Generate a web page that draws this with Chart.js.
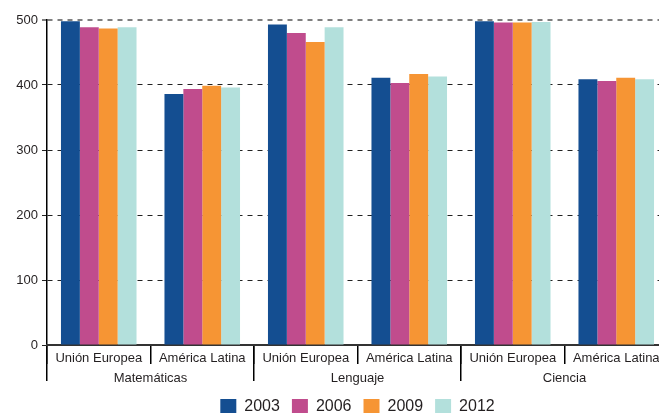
<!DOCTYPE html>
<html>
<head>
<meta charset="utf-8">
<script src="https://cdn.jsdelivr.net/npm/chart.js@4/dist/chart.umd.min.js"></script>
<style>
html,body{margin:0;padding:0;background:#fff;overflow:hidden;width:659px;height:413px;}
#wrap{position:absolute;left:0;top:0;width:672px;height:425px;}
</style>
</head>
<body>
<div id="wrap"><canvas id="c" width="672" height="425"></canvas></div>
<script>
const categories = ['Unión Europea','América Latina','Unión Europea','América Latina','Unión Europea','América Latina'];
const groups = ['Matemáticas','Lenguaje','Ciencia'];
const years = ['2003','2006','2009','2012'];
const s2003 = [498, 386, 493, 411, 498, 409];
const s2006 = [489, 394, 480, 403, 496, 406];
const s2009 = [487, 399, 466, 417, 496, 411];
const s2012 = [489, 396, 489, 413, 497, 409];
const yTicks = [0, 100, 200, 300, 400, 500];

const colors = ['#144E91', '#C04C8D', '#F69534', '#B3E0DC'];
const seriesValues = [s2003, s2006, s2009, s2012];
const FONT = '"Liberation Sans", Arial, Helvetica, sans-serif';
const TXT = '#231F20';

new Chart(document.getElementById('c'), {
  type: 'bar',
  data: {
    labels: categories,
    datasets: years.map((y, i) => ({
      label: y,
      data: seriesValues[i],
      backgroundColor: colors[i],
      borderWidth: 0,
      categoryPercentage: 0.73,
      barPercentage: 1.0
    }))
  },
  options: {
    responsive: false,
    animation: false,
    devicePixelRatio: 1,
    layout: { padding: { top: 20, right: 4, left: 0, bottom: 0 } },
    plugins: {
      tooltip: { enabled: false },
      legend: {
        position: 'bottom',
        fullSize: false,
        labels: {
          boxWidth: 16, boxHeight: 16, padding: 12,
          color: TXT,
          font: { family: FONT, size: 16 }
        }
      }
    },
    scales: {
      y: {
        min: 0, max: 500,
        afterBuildTicks: (s) => { s.ticks = yTicks.map(v => ({ value: v })); },
        afterFit: (s) => { s.width = 47; },
        ticks: { color: TXT, padding: 4, font: { family: FONT, size: 13 } },
        border: { display: true, color: '#000', width: 1.5, dash: [5, 5] },
        grid: {
          drawTicks: true, tickLength: 5,
          color: (ctx) => ctx.tick && ctx.tick.value === 500 ? '#7f7f7f' : '#222',
          lineWidth: (ctx) => ctx.tick && ctx.tick.value === 500 ? 2 : 1
        }
      },
      xs: {
        type: 'category', position: 'bottom', weight: -2,
        labels: categories, offset: true,
        afterFit: (s) => { s.height = 0; },
        ticks: { display: false },
        border: { display: false },
        grid: { offset: true, drawOnChartArea: false, drawTicks: true, tickLength: 19, color: '#000', lineWidth: 1.5 }
      },
      xg: {
        type: 'category', position: 'bottom', weight: -1,
        labels: groups, offset: true,
        afterFit: (s) => { s.height = 0; },
        ticks: { display: false },
        border: { display: false },
        grid: { offset: true, drawOnChartArea: false, drawTicks: true, tickLength: 36, color: '#000', lineWidth: 1.5 }
      },
      x: {
        position: 'bottom', weight: 0,
        afterFit: (s) => { s.height = 21; },
        ticks: { color: TXT, padding: 6, maxRotation: 0, autoSkip: false, font: { family: FONT, size: 13 } },
        border: { display: true, color: '#333', width: 2 },
        grid: { display: false, drawTicks: false }
      },
      x2: {
        type: 'category', position: 'bottom', weight: 1,
        labels: groups, offset: true,
        afterFit: (s) => { s.height = 21; },
        ticks: { color: TXT, padding: 5, maxRotation: 0, autoSkip: false, font: { family: FONT, size: 13 } },
        border: { display: false },
        grid: { display: false, drawTicks: false }
      }
    }
  }
});
</script>
</body>
</html>
